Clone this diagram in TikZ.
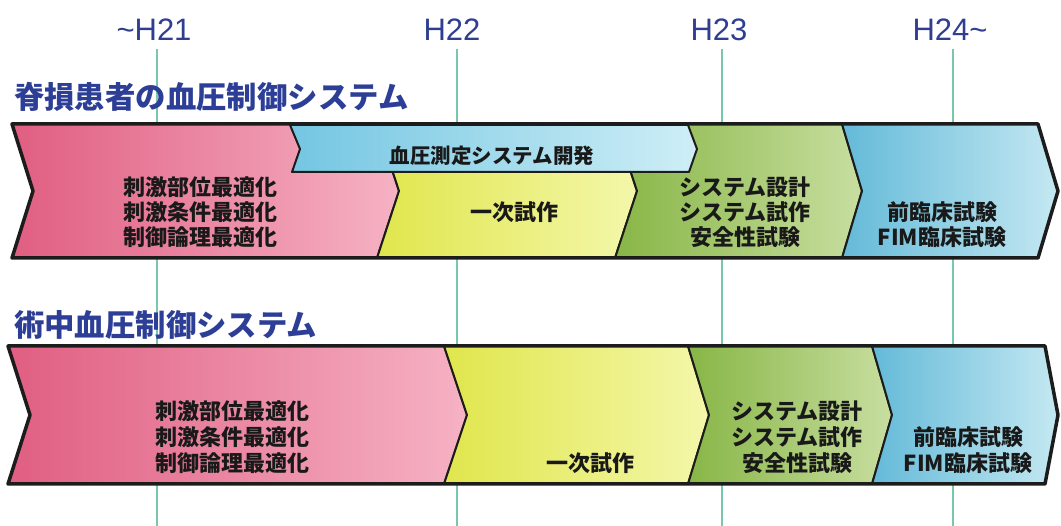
\documentclass[tikz,border=0pt]{standalone}
\usepackage{fontspec}
\setmainfont{Liberation Sans}
\newfontfamily\jp{Noto Sans CJK JP}
\definecolor{vline}{RGB}{122,200,172}
\definecolor{yearc}{RGB}{48,62,146}
\definecolor{titlec}{RGB}{45,62,150}
\definecolor{outl}{RGB}{28,28,28}
\definecolor{pinkL}{RGB}{224,94,130}
\definecolor{pinkR}{RGB}{246,178,196}
\definecolor{yelL}{RGB}{224,230,76}
\definecolor{yelR}{RGB}{244,247,170}
\definecolor{grnL}{RGB}{136,182,70}
\definecolor{grnR}{RGB}{200,222,160}
\definecolor{cyaL}{RGB}{100,186,216}
\definecolor{cyaR}{RGB}{196,232,242}
\definecolor{bluL}{RGB}{116,198,226}
\definecolor{bluR}{RGB}{206,238,246}
\tikzset{
  vl/.style={draw=vline, line width=2pt},
  year/.style={font=\fontsize{31}{31}\selectfont, text=yearc, inner sep=0pt},
  ttl/.style={font=\jp\bfseries\fontsize{30.4}{30}\selectfont, text=titlec, inner sep=0pt, anchor=west},
  seg/.style={draw=outl, line width=2pt, line join=round},
  outer/.style={draw=outl, line width=3.5pt, line join=round},
  lab/.style={font=\jp\bfseries\fontsize{22}{25}\selectfont, text=black!90, align=center, inner sep=0pt},
  labb/.style={font=\jp\bfseries\fontsize{22}{26}\selectfont, text=black!90, align=center, inner sep=0pt},
}
\begin{document}
\begin{tikzpicture}[x=1pt,y=-1pt]
\useasboundingbox (0,0) rectangle (1061,526);
\fill[white] (0,0) rectangle (1061,526);
% vertical year lines
\foreach \x in {157,457,722,953} \draw[vl] (\x,49) -- (\x,526);
% year labels
\node[year] (y21) at (154,30) {\textasciitilde H21};
\node[year] (y22) at (452,30) {H22};
\node[year] (y23) at (719,30) {H23};
\node[year] (y24) at (950,30) {H24\textasciitilde};
% titles
\node[ttl] (t1) at (14,97) {脊損患者の血圧制御システム};
\node[ttl] (t2) at (14,325) {術中血圧制御システム};
% top bar
\path[seg, left color=pinkL, right color=pinkR] (12,124) -- (377,124) -- (399,191) -- (377,258) -- (12,258) -- (33,191) -- cycle;
\path[seg, left color=yelL, right color=yelR] (377,124) -- (615,124) -- (637,191) -- (615,258) -- (377,258) -- (399,191) -- cycle;
\path[seg, left color=grnL, right color=grnR] (615,124) -- (842,124) -- (862,191) -- (842,258) -- (615,258) -- (637,191) -- cycle;
\path[seg, left color=cyaL, right color=cyaR] (842,124) -- (1038,124) -- (1058,191) -- (1038,258) -- (842,258) -- (862,191) -- cycle;
\draw[outer] (12,124) -- (1038,124) -- (1058,191) -- (1038,258) -- (12,258) -- (33,191) -- cycle;
\path[seg, left color=bluL, right color=bluR] (290,125) -- (688,125) -- (697,149) -- (689,172) -- (292,172) -- (300,149) -- cycle;
% top bar texts
\node[font=\jp\bfseries\fontsize{20.5}{20}\selectfont, text=black!90, inner sep=0pt] (b0) at (492,156) {血圧測定システム開発};
\node[lab] (a1) at (200,212) {刺激部位最適化\\刺激条件最適化\\制御論理最適化};
\node[lab] (a2) at (514,212) {一次試作};
\node[lab] (a3) at (745,212) {システム設計\\システム試作\\安全性試験};
\node[lab] (a4) at (942,224.5) {前臨床試験\\FIM臨床試験};
% bottom bar
\path[seg, left color=pinkL, right color=pinkR] (8,346) -- (444,346) -- (467,415) -- (444,484) -- (8,484) -- (30,415) -- cycle;
\path[seg, left color=yelL, right color=yelR] (444,346) -- (688,346) -- (709,415) -- (688,484) -- (444,484) -- (467,415) -- cycle;
\path[seg, left color=grnL, right color=grnR] (688,346) -- (872,346) -- (892,415) -- (872,484) -- (688,484) -- (709,415) -- cycle;
\path[seg, left color=cyaL, right color=cyaR] (872,346) -- (1045,346) -- (1058,415) -- (1045,484) -- (872,484) -- (892,415) -- cycle;
\draw[outer] (8,346) -- (1045,346) -- (1058,415) -- (1045,484) -- (8,484) -- (30,415) -- cycle;
% bottom bar texts
\node[labb] (c1) at (232,437) {刺激部位最適化\\刺激条件最適化\\制御論理最適化};
\node[labb] (c2) at (590,463) {一次試作};
\node[labb] (c3) at (797,437) {システム設計\\システム試作\\安全性試験};
\node[labb] (c4) at (968,450) {前臨床試験\\FIM臨床試験};
\end{tikzpicture}
\end{document}
